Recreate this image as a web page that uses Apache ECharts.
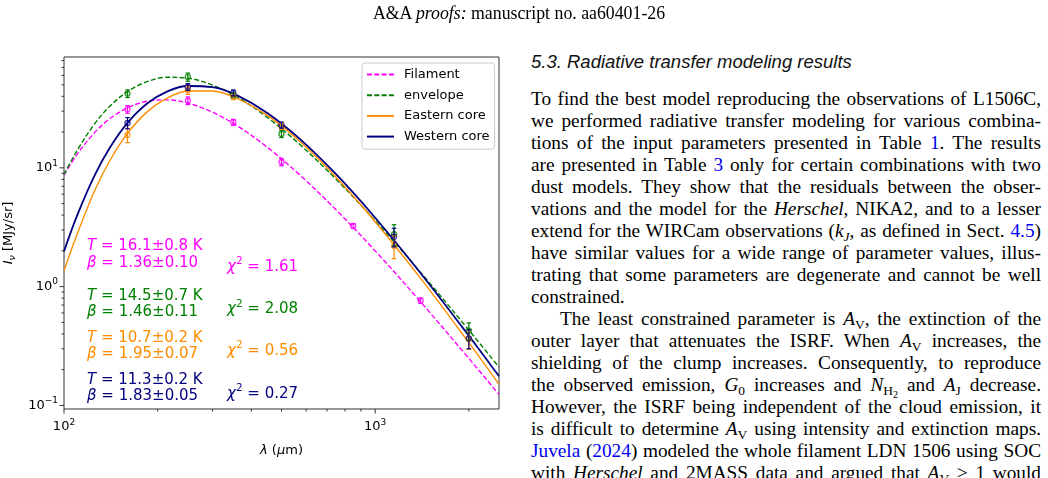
<!DOCTYPE html>
<html>
<head>
<meta charset="utf-8">
<script src="https://cdn.jsdelivr.net/npm/echarts@6/dist/echarts.min.js"></script>
<style>
  html, body { margin: 0; padding: 0; width: 1048px; height: 478px; overflow: hidden; background: #fff; }
  #chart { position: absolute; left: 0; top: 0; width: 520px; height: 478px; z-index: 1; }
  #header { position: absolute; left: 0; width: 1038px; top: 3px; text-align: center; z-index: 2;
            font: 17.8px/20px "Liberation Serif", serif; color: #000; }
  #heading { position: absolute; left: 531px; top: 51px; font: italic 18.5px/22px "Liberation Sans", sans-serif; color: #111; white-space: nowrap; }
  #col { position: absolute; left: 531px; top: 88px; width: 510px;
         font: 19.3px/22px "Liberation Serif", serif; color: #000; }
  #col div { text-align: justify; text-align-last: justify; white-space: nowrap; height: 22px; }
  #col div.last { text-align-last: left; }
  #col div.ind { padding-left: 29px; }
  #col a { color: #0000ee; text-decoration: none; }
  #col .sb { font-size: 70%; position: relative; top: 0.28em; line-height: 0; }
  #col .sb .sb { font-size: 75%; }
</style>
</head>
<body>
<div id="header">A&amp;A <i>proofs:</i> manuscript no. aa60401-26</div>
<div id="heading">5.3. Radiative transfer modeling results</div>
<div id="col">
<div>To find the best model reproducing the observations of L1506C,</div>
<div>we performed radiative transfer modeling for various combina-</div>
<div>tions of the input parameters presented in Table <a>1</a>. The results</div>
<div>are presented in Table <a>3</a> only for certain combinations with two</div>
<div>dust models. They show that the residuals between the obser-</div>
<div>vations and the model for the <i>Herschel</i>, NIKA2, and to a lesser</div>
<div>extend for the WIRCam observations (<i>k<span class="sb">J</span></i>, as defined in Sect. <a>4.5</a>)</div>
<div>have similar values for a wide range of parameter values, illus-</div>
<div>trating that some parameters are degenerate and cannot be well</div>
<div class="last">constrained.</div>
<div class="ind">The least constrained parameter is <i>A</i><span class="sb">V</span>, the extinction of the</div>
<div>outer layer that attenuates the ISRF. When <i>A</i><span class="sb">V</span> increases, the</div>
<div>shielding of the clump increases. Consequently, to reproduce</div>
<div>the observed emission, <i>G</i><span class="sb">0</span> increases and <i>N</i><span class="sb">H<span class="sb">2</span></span> and <i>A</i><span class="sb">J</span> decrease.</div>
<div>However, the ISRF being independent of the cloud emission, it</div>
<div>is difficult to determine <i>A</i><span class="sb">V</span> using intensity and extinction maps.</div>
<div><a>Juvela</a> (<a>2024</a>) modeled the whole filament LDN 1506 using SOC</div>
<div>with <i>Herschel</i> and 2MASS data and argued that <i>A</i><span class="sb">V</span> &gt; 1 would</div>
</div>
<div id="chart"></div>
<script>
// ---------------- data ----------------
const seriesNames = ['Filament', 'envelope', 'Eastern core', 'Western core'];

// model curves (wavelength in micron, intensity in MJy/sr)
const modelWavelengths = [100, 110, 125, 140, 160, 185, 215, 250, 300, 360, 450, 570, 750, 1000, 1400, 2000, 2500];
const filamentModel = [8.69, 12.92, 19.63, 25.78, 32.05, 36.37, 37.35, 35.06, 29.42, 22.61, 14.92, 8.81, 4.41, 2.00, 0.744, 0.249, 0.1235];
const envelopeModel = [8.80, 13.89, 23.19, 32.77, 43.85, 53.19, 57.83, 56.85, 49.74, 39.38, 26.59, 15.90, 7.98, 3.59, 1.318, 0.431, 0.210];
const easternModel  = [1.36, 2.73, 6.29, 11.36, 19.49, 29.59, 38.80, 44.28, 44.32, 38.42, 27.63, 16.87, 8.29, 3.52, 1.172, 0.3375, 0.1505];
const westernModel  = [1.98, 3.92, 8.47, 14.60, 23.88, 34.75, 44.00, 48.83, 47.70, 40.72, 29.01, 17.71, 8.79, 3.80, 1.297, 0.386, 0.176];

// observed points with 1-sigma errors
const filamentObsWl = [160, 250, 350, 500, 850, 1400];
const filamentObs   = [31.1, 36.8, 24.2, 11.2, 3.24, 0.762];
const filamentErr   = [2.3, 2.7, 1.4, 0.78, 0.15, 0.04];

const coreObsWl   = [160, 250, 350, 500, 1150, 2000];
const envelopeObs = [42.2, 58.2, 40.8, 19.3, 2.77, 0.425];
const envelopeErr = [3.1, 4.6, 2.0, 1.3, 0.55, 0.07];
const easternObs  = [18.9, 45.0, 39.5, 22.4, 2.20, 0.361];
const easternErr  = [2.6, 3.5, 2.0, 1.3, 0.48, 0.065];
const westernObs  = [23.9, 48.0, 42.7, 22.9, 2.63, 0.366];
const westernErr  = [2.6, 3.2, 2.5, 1.35, 0.47, 0.066];

// fit results
const fitT    = ['16.1±0.8', '14.5±0.7', '10.7±0.2', '11.3±0.2'];
const fitBeta = ['1.36±0.10', '1.46±0.11', '1.95±0.07', '1.83±0.05'];
const fitChi2 = ['1.61', '2.08', '0.56', '0.27'];

// axis ticks
const xMajorTicks = [100, 1000];
const xMinorTicks = [200, 300, 400, 500, 600, 700, 800, 900, 2000];
const yMajorTicks = [0.1, 1, 10];
const yMinorTicks = [0.2, 0.3, 0.4, 0.5, 0.6, 0.7, 0.8, 0.9, 2, 3, 4, 5, 6, 7, 8, 9, 20, 30, 40, 50, 60, 70, 80];

// ---------------- styles / layout ----------------
const colors = ['#ff00ff', '#008000', '#ff8c00', '#000080'];
const dashed = [true, true, false, false];
const lineWidths = [1.4, 1.4, 1.4, 1.8];
const FONT = 'DejaVu Sans';
const X_MIN = 100, X_MAX = 2500, Y_MIN = 0.0933, Y_MAX = 85.7;
const annoTY = [246, 296.5, 338.5, 380];
const annoBY = [263.5, 312.5, 354.5, 396];
const annoCY = [267, 309.5, 351, 394];

const chart = echarts.init(document.getElementById('chart'), null, { renderer: 'canvas' });

const models = [filamentModel, envelopeModel, easternModel, westernModel];
const obsWl = [filamentObsWl, coreObsWl, coreObsWl, coreObsWl];
const obs = [filamentObs, envelopeObs, easternObs, westernObs];
const errs = [filamentErr, envelopeErr, easternErr, westernErr];

function powLabel(v) {
  const e = Math.log10(v);
  const r = Math.round(e);
  if (Math.abs(e - r) > 1e-6) return '';
  return '{b|10}{s|' + (r < 0 ? '\u2212' + (-r) : r) + '}';
}
const labelRich = {
  b: { fontSize: 13, fontFamily: FONT, color: '#000' },
  s: { fontSize: 9, fontFamily: FONT, color: '#000', padding: [0, 0, 9, 0] }
};

const series = [];
for (let k = 0; k < 4; k++) {
  series.push({
    name: seriesNames[k], type: 'line', symbol: 'none', smooth: 0.35, z: 2,
    data: modelWavelengths.map((w, i) => [w, models[k][i]]),
    lineStyle: { color: colors[k], width: lineWidths[k], type: dashed[k] ? [5, 2.3] : 'solid' },
    itemStyle: { color: colors[k] }
  });
}
for (let k = 0; k < 4; k++) {
  const c = colors[k];
  series.push({
    name: seriesNames[k] + ' data', type: 'scatter', z: 3,
    symbol: 'circle', symbolSize: 5,
    data: obsWl[k].map((w, i) => [w, obs[k][i]]),
    itemStyle: { color: 'rgba(255,255,255,0)', borderColor: c, borderWidth: 1.3 }
  });
  series.push({
    name: seriesNames[k] + ' errors', type: 'custom', z: 4,
    data: obsWl[k].map((w, i) => [w, obs[k][i], obs[k][i] - errs[k][i], obs[k][i] + errs[k][i]]),
    encode: { x: 0, y: [1, 2, 3] },
    renderItem: function (params, api) {
      const x = api.value(0);
      const lo = api.coord([x, api.value(2)]);
      const hi = api.coord([x, api.value(3)]);
      const hw = 2.3;
      const st = { stroke: c, lineWidth: 1.2 };
      return { type: 'group', children: [
        { type: 'line', shape: { x1: lo[0], y1: lo[1], x2: hi[0], y2: hi[1] }, style: st },
        { type: 'line', shape: { x1: lo[0] - hw, y1: lo[1], x2: lo[0] + hw, y2: lo[1] }, style: st },
        { type: 'line', shape: { x1: hi[0] - hw, y1: hi[1], x2: hi[0] + hw, y2: hi[1] }, style: st }
      ] };
    }
  });
}
// tick marks (major + minor), drawn through the axes' scales
const xTickData = xMajorTicks.map(v => [v, 1, 1]).concat(xMinorTicks.map(v => [v, 1, 0]));
const yTickData = yMajorTicks.map(v => [X_MIN, v, 1]).concat(yMinorTicks.map(v => [X_MIN, v, 0]));
series.push({
  name: 'xticks', type: 'custom', silent: true, clip: false, z: 5,
  data: xTickData,
  renderItem: function (params, api) {
    const p = api.coord([api.value(0), 1]);
    const cs = params.coordSys;
    const yb = cs.y + cs.height;
    const len = api.value(2) ? 4.5 : 2.5;
    return { type: 'line', shape: { x1: p[0], y1: yb, x2: p[0], y2: yb + len }, style: { stroke: '#333', lineWidth: 1 } };
  }
});
series.push({
  name: 'yticks', type: 'custom', silent: true, clip: false, z: 5,
  data: yTickData,
  renderItem: function (params, api) {
    const p = api.coord([X_MIN, api.value(1)]);
    const cs = params.coordSys;
    const len = api.value(2) ? 4.5 : 2.5;
    return { type: 'line', shape: { x1: cs.x, y1: p[1], x2: cs.x - len, y2: p[1] }, style: { stroke: '#333', lineWidth: 1 } };
  }
});

// annotation texts
const graphics = [];
for (let k = 0; k < 4; k++) {
  const c = colors[k];
  const rich = {
    n: { fill: c, fontSize: 15, fontFamily: FONT },
    i: { fill: c, fontSize: 15, fontFamily: FONT, fontStyle: 'italic' },
    s: { fill: c, fontSize: 10.5, fontFamily: FONT, padding: [0, 0, 11, 0] }
  };
  graphics.push({ type: 'text', x: 87, y: annoTY[k], silent: true,
    style: { text: '{i|T}{n| = ' + fitT[k] + ' K}', rich: rich, fill: c, align: 'left', verticalAlign: 'middle', font: '15px ' + FONT } });
  graphics.push({ type: 'text', x: 87, y: annoBY[k], silent: true,
    style: { text: '{i|\u03b2}{n| = ' + fitBeta[k] + '}', rich: rich, fill: c, align: 'left', verticalAlign: 'middle', font: '15px ' + FONT } });
  graphics.push({ type: 'text', x: 227, y: annoCY[k], silent: true,
    style: { text: '{i|\u03c7}{s|2}{n| = ' + fitChi2[k] + '}', rich: rich, fill: c, align: 'left', verticalAlign: 'middle', font: '15px ' + FONT } });
}

chart.setOption({
  animation: false,
  backgroundColor: 'transparent',
  grid: { left: 64, top: 57, width: 435, height: 352, show: true, borderColor: '#333', borderWidth: 1,
          backgroundColor: 'transparent', containLabel: false, outerBoundsMode: 'none' },
  legend: {
    data: seriesNames, orient: 'vertical', left: 362, top: 63,
    itemWidth: 27, itemHeight: 12, itemGap: 7.7, padding: [5, 5, 6, 4],
    backgroundColor: 'rgba(255,255,255,0.8)', borderColor: '#cccccc', borderWidth: 1, borderRadius: 3,
    itemStyle: { color: 'rgba(0,0,0,0)', borderWidth: 0, opacity: 0 },
    textStyle: { fontSize: 13, fontFamily: FONT, color: '#000', padding: [0, 0, 0, 5] },
    selectedMode: false
  },
  xAxis: {
    type: 'log', logBase: 10, min: X_MIN, max: X_MAX,
    axisLine: { show: false }, axisTick: { show: false }, minorTick: { show: false },
    splitLine: { show: false }, minorSplitLine: { show: false },
    axisLabel: { formatter: powLabel, rich: labelRich, margin: 9, showMinLabel: true, showMaxLabel: true, hideOverlap: false },
    name: '{i|\u03bb} ({i|\u03bc}m)', nameLocation: 'middle', nameGap: 35,
    nameTextStyle: { fontSize: 13, fontFamily: FONT, color: '#000',
      rich: { i: { fontSize: 13, fontFamily: FONT, fontStyle: 'italic', color: '#000' } } }
  },
  yAxis: {
    type: 'log', logBase: 10, min: Y_MIN, max: Y_MAX,
    axisLine: { show: false }, axisTick: { show: false }, minorTick: { show: false },
    splitLine: { show: false }, minorSplitLine: { show: false },
    axisLabel: { formatter: powLabel, rich: labelRich, margin: 6, hideOverlap: false },
    name: '{i|I}{sub|\u03bd} [MJy/sr]', nameLocation: 'middle', nameGap: 44, nameRotate: 90,
    nameTextStyle: { fontSize: 13, fontFamily: FONT, color: '#000',
      rich: {
        i: { fontSize: 13, fontFamily: FONT, fontStyle: 'italic', color: '#000' },
        sub: { fontSize: 9.5, fontFamily: FONT, fontStyle: 'italic', color: '#000', padding: [7, 0, 0, 0] }
      } }
  },
  graphic: graphics,
  series: series
});
</script>
</body>
</html>
